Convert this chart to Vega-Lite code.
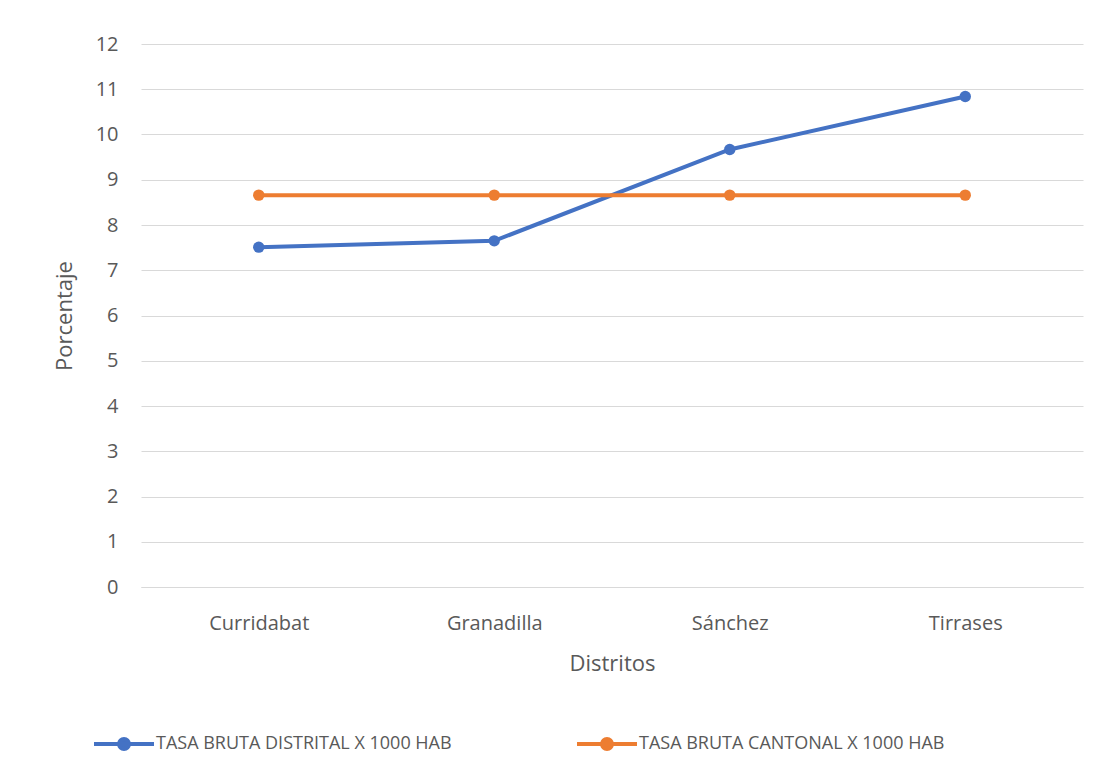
{
  "$schema": "https://vega.github.io/schema/vega-lite/v6.json",
  "width": 942,
  "height": 543,
  "autosize": "none",
  "padding": {"left": 141, "top": 44, "right": 19, "bottom": 190},
  "background": "white",
  "data": {
    "values": [
      {"distrito": "Curridabat", "serie": "TASA BRUTA DISTRITAL  X 1000 HAB", "valor": 7.51},
      {"distrito": "Granadilla", "serie": "TASA BRUTA DISTRITAL  X 1000 HAB", "valor": 7.65},
      {"distrito": "Sánchez", "serie": "TASA BRUTA DISTRITAL  X 1000 HAB", "valor": 9.67},
      {"distrito": "Tirrases", "serie": "TASA BRUTA DISTRITAL  X 1000 HAB", "valor": 10.84},
      {"distrito": "Curridabat", "serie": "TASA BRUTA CANTONAL X 1000 HAB", "valor": 8.66},
      {"distrito": "Granadilla", "serie": "TASA BRUTA CANTONAL X 1000 HAB", "valor": 8.66},
      {"distrito": "Sánchez", "serie": "TASA BRUTA CANTONAL X 1000 HAB", "valor": 8.66},
      {"distrito": "Tirrases", "serie": "TASA BRUTA CANTONAL X 1000 HAB", "valor": 8.66}
    ]
  },
  "mark": {"type": "line", "strokeWidth": 4, "point": {"filled": true, "size": 130, "opacity": 1}},
  "encoding": {
    "x": {
      "field": "distrito",
      "type": "nominal",
      "sort": ["Curridabat", "Granadilla", "Sánchez", "Tirrases"],
      "scale": {"paddingInner": 0, "paddingOuter": 0},
      "axis": {
        "title": "Distritos",
        "labelAngle": 0,
        "ticks": false,
        "domain": true,
        "domainColor": "#d9d9d9",
        "domainWidth": 1,
        "labelPadding": 26,
        "titlePadding": 20,
        "labelFontSize": 20,
        "titleFontSize": 22
      }
    },
    "y": {
      "field": "valor",
      "type": "quantitative",
      "scale": {"domain": [0, 12]},
      "axis": {
        "title": "Porcentaje",
        "values": [0,1,2,3,4,5,6,7,8,9,10,11,12],
        "ticks": false,
        "domain": false,
        "labelPadding": 23,
        "titlePadding": 19,
        "labelFontSize": 20,
        "titleFontSize": 22
      }
    },
    "color": {
      "field": "serie",
      "type": "nominal",
      "sort": ["TASA BRUTA DISTRITAL  X 1000 HAB", "TASA BRUTA CANTONAL X 1000 HAB"],
      "scale": {"range": ["#4472C4", "#ED7D31"]},
      "legend": {
        "title": null,
        "orient": "none",
        "direction": "horizontal",
        "legendX": -34,
        "legendY": 683,
        "symbolType": "M-2,0L2,0M-0.33,0A0.33,0.33 0 1,0 0.33,0A0.33,0.33 0 1,0 -0.33,0",
        "symbolSize": 900,
        "symbolStrokeWidth": 4,
        "labelFontSize": 18,
        "labelLimit": 0,
        "columnPadding": 112,
        "labelOffset": 15
      }
    }
  },
  "config": {
    "font": "Open Sans",
    "view": {"stroke": null},
    "axis": {
      "gridColor": "#d9d9d9",
      "gridWidth": 1,
      "labelColor": "#595959",
      "titleColor": "#595959",
      "titleFontWeight": "normal",
      "labelFont": "Open Sans",
      "titleFont": "Open Sans"
    },
    "legend": {"labelColor": "#595959", "labelFont": "Open Sans"}
  }
}
